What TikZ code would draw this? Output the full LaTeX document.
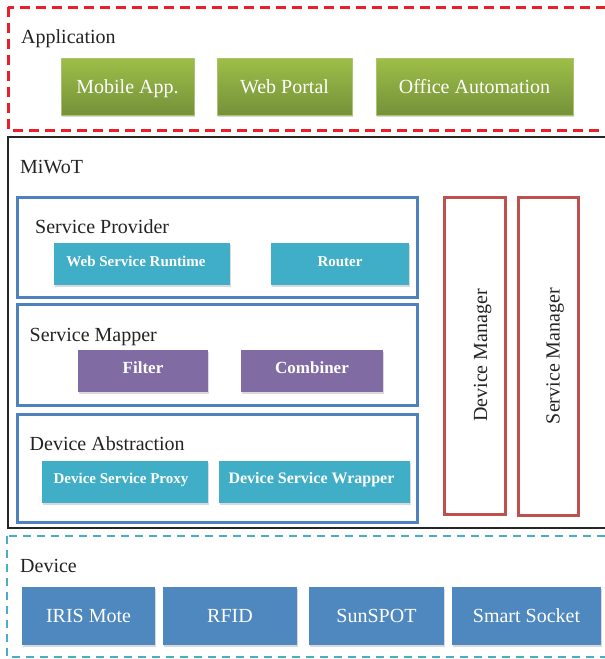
\documentclass[tikz,border=0pt]{standalone}
\usepackage{fontspec}
\setmainfont{Liberation Serif}
\usetikzlibrary{shadows}

\definecolor{appTop}{RGB}{158,190,72}
\definecolor{appBot}{RGB}{117,145,58}
\definecolor{appEdge}{RGB}{170,196,110}
\definecolor{layerRed}{RGB}{236,30,40}
\definecolor{layerCyan}{RGB}{75,172,198}
\definecolor{frameBlue}{RGB}{79,129,189}
\definecolor{mgrRed}{RGB}{192,80,77}
\definecolor{tealFill}{RGB}{64,174,198}
\definecolor{violetFill}{RGB}{128,108,162}
\definecolor{devFill}{RGB}{78,136,190}
\definecolor{inkGray}{RGB}{35,35,35}

\begin{document}
\begin{tikzpicture}[x=1pt,y=-1pt,
  layerlabel/.style={anchor=base west, inner sep=0pt, text=inkGray,
    font=\fontsize{20}{24}\selectfont},
  tile/.style={rectangle, inner sep=0pt, outer sep=0pt,
    drop shadow={opacity=0.3, shadow xshift=1pt, shadow yshift=-2pt}},
  appbox/.style={tile, top color=appTop, bottom color=appBot, draw=appEdge,
    line width=0.6pt, text=white, font=\fontsize{20}{24}\selectfont,
    text height=14pt, text depth=1pt, minimum height=57pt},
  compbox/.style={tile, text=white, font=\bfseries\fontsize{15}{18}\selectfont,
    text height=11pt, text depth=7pt, minimum height=42pt},
  bigcomp/.style={font=\bfseries\fontsize{#1}{#1}\selectfont},
  devbox/.style={tile, fill=devFill, text=white, font=\fontsize{20}{24}\selectfont,
    text height=14pt, text depth=1pt, minimum height=58pt},
  groupframe/.style={rectangle, draw=frameBlue, line width=3pt, inner sep=0pt,
    minimum width=400pt},
  mgrframe/.style={rectangle, draw=mgrRed, line width=3pt, inner sep=0pt},
  mgrlabel/.style={anchor=base, rotate=90, inner sep=0pt, text=inkGray,
    font=\fontsize{20}{24}\selectfont}
]
\useasboundingbox (0,0) rectangle (605,659);
\clip (0,0) rectangle (605,659);

% ---- layers ----
\draw[layerRed, line width=3pt, dash pattern=on 10pt off 6pt] (8,7) rectangle (640,130);
\draw[black!85, line width=2.8pt] (8,137) rectangle (640,528);
\draw[layerCyan, line width=2.2pt, dash pattern=on 8pt off 6pt] (7,536) rectangle (640,657);

\node[layerlabel] (lab-app) at (21,43) {Application};
\node[layerlabel] (lab-miwot) at (20,173) {MiWoT};
\node[layerlabel] (lab-dev) at (20,572) {Device};

% ---- application layer ----
\node[appbox, minimum width=133pt] (mobile) at (127.5,86.5) {Mobile App.};
\node[appbox, minimum width=135pt] (portal) at (284.5,86.5) {Web Portal};
\node[appbox, minimum width=197pt] (office) at (474.5,86.5) {Office Automation};

% ---- MiWoT: service provider ----
\node[groupframe, minimum height=100pt] (sp) at (217,247) {};
\node[layerlabel] (sp-lab) at (35,233) {Service Provider};
\node[compbox, fill=tealFill, minimum width=176pt] (wsr) at (142,264) {Web Service Runtime\hspace*{12pt}};
\node[compbox, fill=tealFill, minimum width=138pt] (router) at (340,264) {Router};

% ---- MiWoT: service mapper ----
\node[groupframe, minimum height=101pt] (sm) at (217,354.5) {};
\node[layerlabel] (sm-lab) at (29.5,341) {Service Mapper};
\node[compbox, bigcomp=17, fill=violetFill, minimum width=130pt] (filter) at (143,371) {Filter};
\node[compbox, bigcomp=17, fill=violetFill, minimum width=142pt] (combiner) at (312,371) {Combiner};

% ---- MiWoT: device abstraction ----
\node[groupframe, minimum height=108pt] (da) at (217,468) {};
\node[layerlabel] (da-lab) at (29.5,450) {Device Abstraction};
\node[compbox, fill=tealFill, minimum width=166pt] (proxy) at (125,481.5) {Device Service Proxy\hspace*{8pt}};
\node[compbox, bigcomp=16, fill=tealFill, minimum width=191pt] (wrapper) at (314.5,481.5) {Device Service Wrapper\hspace*{6pt}};

% ---- managers ----
\node[mgrframe, minimum width=61pt, minimum height=317pt] (devmgr) at (474.5,355.5) {};
\node[mgrlabel] (devmgr-lab) at (487,355.5) {Device Manager};
\node[mgrframe, minimum width=60pt, minimum height=318pt] (svcmgr) at (548,356) {};
\node[mgrlabel] (svcmgr-lab) at (559.5,356) {Service Manager};

% ---- device layer ----
\node[devbox, minimum width=133pt] (iris) at (88.5,616) {IRIS Mote};
\node[devbox, minimum width=134pt] (rfid) at (230,616) {RFID};
\node[devbox, minimum width=135pt] (sunspot) at (376.5,616) {SunSPOT};
\node[devbox, minimum width=149pt] (socket) at (526.5,616) {Smart Socket};
\end{tikzpicture}
\end{document}
